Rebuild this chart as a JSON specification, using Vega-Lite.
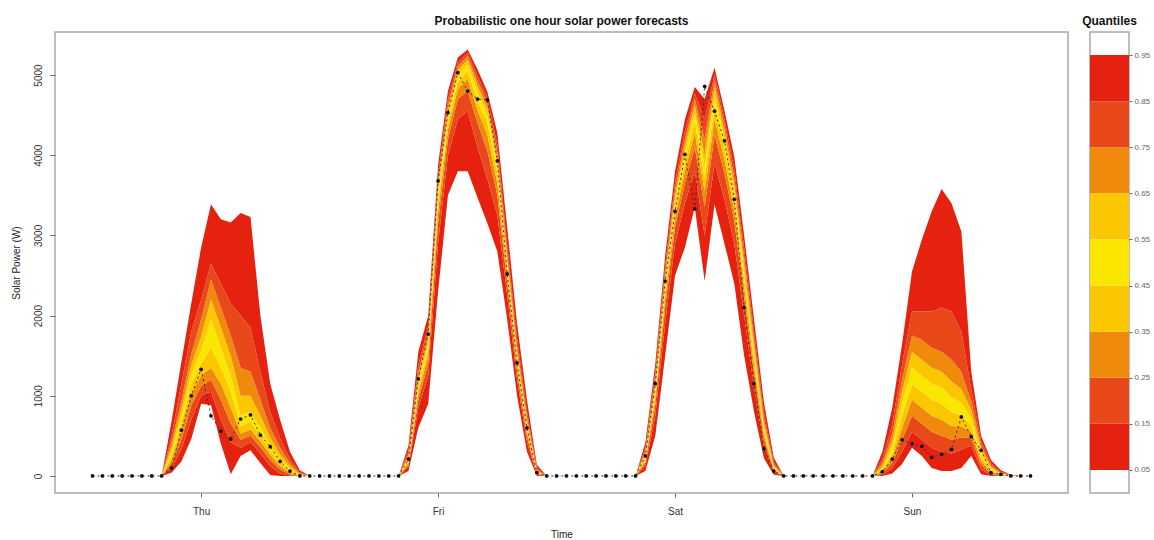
{
  "$schema": "https://vega.github.io/schema/vega-lite/v6.json",
  "padding": {"left": 10, "top": 14, "right": 0, "bottom": 0},
  "background": "white",
  "config": {
    "font": "Liberation Sans",
    "view": {"stroke": "#a9a9a9", "strokeWidth": 1.5},
    "axis": {"grid": false, "domain": false, "tickColor": "#666", "labelColor": "#333", "titleColor": "#222", "labelFont": "Liberation Sans", "titleFont": "Liberation Sans", "titleFontWeight": "normal"},
    "title": {"font": "Liberation Sans", "fontSize": 12, "fontWeight": "bold", "anchor": "middle", "color": "#111", "offset": 4}
  },
  "spacing": 12,
  "datasets": {
    "fc": [
      {"h":1,"o":0,"q05":0,"q15":0,"q25":0,"q35":0,"q45":0,"q55":0,"q65":0,"q75":0,"q85":0,"q95":0},
      {"h":2,"o":0,"q05":0,"q15":0,"q25":0,"q35":0,"q45":0,"q55":0,"q65":0,"q75":0,"q85":0,"q95":0},
      {"h":3,"o":0,"q05":0,"q15":0,"q25":0,"q35":0,"q45":0,"q55":0,"q65":0,"q75":0,"q85":0,"q95":0},
      {"h":4,"o":0,"q05":0,"q15":0,"q25":0,"q35":0,"q45":0,"q55":0,"q65":0,"q75":0,"q85":0,"q95":0},
      {"h":5,"o":0,"q05":0,"q15":0,"q25":0,"q35":0,"q45":0,"q55":0,"q65":0,"q75":0,"q85":0,"q95":0},
      {"h":6,"o":0,"q05":0,"q15":0,"q25":0,"q35":0,"q45":0,"q55":0,"q65":0,"q75":0,"q85":0,"q95":0},
      {"h":7,"o":0,"q05":0,"q15":0,"q25":0,"q35":0,"q45":0,"q55":0,"q65":0,"q75":0,"q85":0,"q95":0},
      {"h":8,"o":0,"q05":0,"q15":0,"q25":0,"q35":0,"q45":0,"q55":0,"q65":0,"q75":0,"q85":0,"q95":0},
      {"h":9,"o":100,"q05":40,"q15":100,"q25":150,"q35":200,"q45":250,"q55":300,"q65":360,"q75":420,"q85":500,"q95":680},
      {"h":10,"o":570,"q05":180,"q15":330,"q25":450,"q35":560,"q45":650,"q55":740,"q65":830,"q75":930,"q85":1150,"q95":1420},
      {"h":11,"o":1000,"q05":460,"q15":700,"q25":880,"q35":1030,"q45":1150,"q55":1260,"q65":1380,"q75":1520,"q85":1800,"q95":2150},
      {"h":12,"o":1330,"q05":900,"q15":1000,"q25":1120,"q35":1250,"q45":1400,"q55":1560,"q65":1740,"q75":1950,"q85":2200,"q95":2850},
      {"h":13,"o":750,"q05":880,"q15":1050,"q25":1200,"q35":1350,"q45":1600,"q55":1950,"q65":2200,"q75":2450,"q85":2650,"q95":3390},
      {"h":14,"o":560,"q05":400,"q15":700,"q25":950,"q35":1150,"q45":1350,"q55":1600,"q65":1850,"q75":2100,"q85":2400,"q95":3200},
      {"h":15,"o":460,"q05":20,"q15":420,"q25":650,"q35":850,"q45":1050,"q55":1250,"q65":1500,"q75":1750,"q85":2150,"q95":3160},
      {"h":16,"o":710,"q05":250,"q15":350,"q25":450,"q35":530,"q45":620,"q55":750,"q65":1000,"q75":1350,"q85":2000,"q95":3280},
      {"h":17,"o":760,"q05":320,"q15":420,"q25":500,"q35":580,"q45":680,"q55":800,"q65":1000,"q75":1300,"q85":1850,"q95":3230},
      {"h":18,"o":510,"q05":160,"q15":280,"q25":360,"q35":430,"q45":500,"q55":600,"q65":750,"q75":950,"q85":1300,"q95":2000},
      {"h":19,"o":365,"q05":10,"q15":120,"q25":200,"q35":260,"q45":320,"q55":390,"q65":480,"q75":600,"q85":800,"q95":1150},
      {"h":20,"o":180,"q05":0,"q15":30,"q25":80,"q35":120,"q45":160,"q55":210,"q65":270,"q75":350,"q85":470,"q95":700},
      {"h":21,"o":60,"q05":0,"q15":5,"q25":20,"q35":40,"q45":60,"q55":90,"q65":120,"q75":160,"q85":210,"q95":300},
      {"h":22,"o":0,"q05":0,"q15":0,"q25":2,"q35":5,"q45":10,"q55":15,"q65":22,"q75":32,"q85":45,"q95":70},
      {"h":23,"o":0,"q05":0,"q15":0,"q25":0,"q35":0,"q45":0,"q55":0,"q65":0,"q75":0,"q85":0,"q95":0},
      {"h":24,"o":0,"q05":0,"q15":0,"q25":0,"q35":0,"q45":0,"q55":0,"q65":0,"q75":0,"q85":0,"q95":0},
      {"h":25,"o":0,"q05":0,"q15":0,"q25":0,"q35":0,"q45":0,"q55":0,"q65":0,"q75":0,"q85":0,"q95":0},
      {"h":26,"o":0,"q05":0,"q15":0,"q25":0,"q35":0,"q45":0,"q55":0,"q65":0,"q75":0,"q85":0,"q95":0},
      {"h":27,"o":0,"q05":0,"q15":0,"q25":0,"q35":0,"q45":0,"q55":0,"q65":0,"q75":0,"q85":0,"q95":0},
      {"h":28,"o":0,"q05":0,"q15":0,"q25":0,"q35":0,"q45":0,"q55":0,"q65":0,"q75":0,"q85":0,"q95":0},
      {"h":29,"o":0,"q05":0,"q15":0,"q25":0,"q35":0,"q45":0,"q55":0,"q65":0,"q75":0,"q85":0,"q95":0},
      {"h":30,"o":0,"q05":0,"q15":0,"q25":0,"q35":0,"q45":0,"q55":0,"q65":0,"q75":0,"q85":0,"q95":0},
      {"h":31,"o":0,"q05":0,"q15":0,"q25":0,"q35":0,"q45":0,"q55":0,"q65":0,"q75":0,"q85":0,"q95":0},
      {"h":32,"o":0,"q05":0,"q15":0,"q25":0,"q35":0,"q45":0,"q55":0,"q65":0,"q75":0,"q85":0,"q95":0},
      {"h":33,"o":210,"q05":60,"q15":110,"q25":140,"q35":165,"q45":190,"q55":215,"q65":240,"q75":270,"q85":310,"q95":380},
      {"h":34,"o":1210,"q05":600,"q15":850,"q25":950,"q35":1030,"q45":1100,"q55":1160,"q65":1220,"q75":1290,"q85":1380,"q95":1550},
      {"h":35,"o":1770,"q05":900,"q15":1250,"q25":1400,"q35":1500,"q45":1580,"q55":1650,"q65":1720,"q75":1790,"q85":1870,"q95":2000},
      {"h":36,"o":3680,"q05":2300,"q15":2900,"q25":3150,"q35":3300,"q45":3420,"q55":3520,"q65":3600,"q75":3680,"q85":3760,"q95":3880},
      {"h":37,"o":4530,"q05":3500,"q15":4000,"q25":4200,"q35":4320,"q45":4410,"q55":4490,"q65":4560,"q75":4630,"q85":4700,"q95":4800},
      {"h":38,"o":5030,"q05":3800,"q15":4450,"q25":4700,"q35":4830,"q45":4920,"q55":5000,"q65":5060,"q75":5110,"q85":5160,"q95":5220},
      {"h":39,"o":4800,"q05":3800,"q15":4550,"q25":4800,"q35":4950,"q45":5050,"q55":5130,"q65":5190,"q75":5240,"q85":5280,"q95":5320},
      {"h":40,"o":4700,"q05":3470,"q15":4100,"q25":4400,"q35":4560,"q45":4680,"q55":4780,"q65":4860,"q75":4930,"q85":4990,"q95":5070},
      {"h":41,"o":4690,"q05":3150,"q15":3700,"q25":4050,"q35":4250,"q45":4400,"q55":4500,"q65":4580,"q75":4650,"q85":4720,"q95":4790},
      {"h":42,"o":3930,"q05":2800,"q15":3250,"q25":3500,"q35":3650,"q45":3780,"q55":3880,"q65":3960,"q75":4040,"q85":4130,"q95":4280},
      {"h":43,"o":2520,"q05":1950,"q15":2250,"q25":2400,"q35":2500,"q45":2570,"q55":2640,"q65":2710,"q75":2790,"q85":2880,"q95":3100},
      {"h":44,"o":1410,"q05":1000,"q15":1200,"q25":1300,"q35":1370,"q45":1430,"q55":1490,"q65":1550,"q75":1620,"q85":1720,"q95":1900},
      {"h":45,"o":600,"q05":300,"q15":420,"q25":490,"q35":540,"q45":590,"q55":640,"q65":690,"q75":740,"q85":810,"q95":950},
      {"h":46,"o":40,"q05":0,"q15":10,"q25":25,"q35":35,"q45":45,"q55":55,"q65":65,"q75":80,"q85":100,"q95":140},
      {"h":47,"o":0,"q05":0,"q15":0,"q25":0,"q35":0,"q45":0,"q55":0,"q65":0,"q75":0,"q85":0,"q95":0},
      {"h":48,"o":0,"q05":0,"q15":0,"q25":0,"q35":0,"q45":0,"q55":0,"q65":0,"q75":0,"q85":0,"q95":0},
      {"h":49,"o":0,"q05":0,"q15":0,"q25":0,"q35":0,"q45":0,"q55":0,"q65":0,"q75":0,"q85":0,"q95":0},
      {"h":50,"o":0,"q05":0,"q15":0,"q25":0,"q35":0,"q45":0,"q55":0,"q65":0,"q75":0,"q85":0,"q95":0},
      {"h":51,"o":0,"q05":0,"q15":0,"q25":0,"q35":0,"q45":0,"q55":0,"q65":0,"q75":0,"q85":0,"q95":0},
      {"h":52,"o":0,"q05":0,"q15":0,"q25":0,"q35":0,"q45":0,"q55":0,"q65":0,"q75":0,"q85":0,"q95":0},
      {"h":53,"o":0,"q05":0,"q15":0,"q25":0,"q35":0,"q45":0,"q55":0,"q65":0,"q75":0,"q85":0,"q95":0},
      {"h":54,"o":0,"q05":0,"q15":0,"q25":0,"q35":0,"q45":0,"q55":0,"q65":0,"q75":0,"q85":0,"q95":0},
      {"h":55,"o":0,"q05":0,"q15":0,"q25":0,"q35":0,"q45":0,"q55":0,"q65":0,"q75":0,"q85":0,"q95":0},
      {"h":56,"o":0,"q05":0,"q15":0,"q25":0,"q35":0,"q45":0,"q55":0,"q65":0,"q75":0,"q85":0,"q95":0},
      {"h":57,"o":250,"q05":60,"q15":120,"q25":160,"q35":190,"q45":220,"q55":250,"q65":280,"q75":310,"q85":350,"q95":420},
      {"h":58,"o":1150,"q05":500,"q15":750,"q25":880,"q35":960,"q45":1030,"q55":1100,"q65":1160,"q75":1220,"q85":1290,"q95":1400},
      {"h":59,"o":2430,"q05":1500,"q15":1900,"q25":2100,"q35":2220,"q45":2320,"q55":2400,"q65":2470,"q75":2540,"q85":2620,"q95":2750},
      {"h":60,"o":3300,"q05":2500,"q15":2900,"q25":3100,"q35":3220,"q45":3320,"q55":3410,"q65":3490,"q75":3570,"q85":3660,"q95":3800},
      {"h":61,"o":4010,"q05":2850,"q15":3400,"q25":3650,"q35":3800,"q45":3920,"q55":4020,"q65":4110,"q75":4200,"q85":4300,"q95":4450},
      {"h":62,"o":3330,"q05":3350,"q15":3800,"q25":4100,"q35":4280,"q45":4420,"q55":4530,"q65":4620,"q75":4700,"q85":4770,"q95":4850},
      {"h":63,"o":4860,"q05":2430,"q15":3000,"q25":3350,"q35":3550,"q45":3720,"q55":3860,"q65":4000,"q75":4200,"q85":4450,"q95":4700},
      {"h":64,"o":4550,"q05":3390,"q15":3900,"q25":4250,"q35":4450,"q45":4620,"q55":4750,"q65":4850,"q75":4940,"q85":5010,"q95":5090},
      {"h":65,"o":4180,"q05":2900,"q15":3450,"q25":3780,"q35":3950,"q45":4080,"q55":4200,"q65":4300,"q75":4380,"q85":4460,"q95":4560},
      {"h":66,"o":3450,"q05":2400,"q15":2900,"q25":3180,"q35":3320,"q45":3440,"q55":3540,"q65":3630,"q75":3720,"q85":3820,"q95":3980},
      {"h":67,"o":2100,"q05":1500,"q15":2000,"q25":2230,"q35":2360,"q45":2460,"q55":2550,"q65":2640,"q75":2730,"q85":2840,"q95":3000},
      {"h":68,"o":1150,"q05":800,"q15":1100,"q25":1280,"q35":1380,"q45":1470,"q55":1550,"q65":1630,"q75":1710,"q85":1800,"q95":1950},
      {"h":69,"o":340,"q05":220,"q15":360,"q25":450,"q35":510,"q45":560,"q55":610,"q65":660,"q75":720,"q85":790,"q95":920},
      {"h":70,"o":60,"q05":15,"q15":45,"q25":65,"q35":80,"q45":95,"q55":110,"q65":125,"q75":145,"q85":175,"q95":230},
      {"h":71,"o":0,"q05":0,"q15":0,"q25":0,"q35":0,"q45":0,"q55":0,"q65":0,"q75":0,"q85":0,"q95":0},
      {"h":72,"o":0,"q05":0,"q15":0,"q25":0,"q35":0,"q45":0,"q55":0,"q65":0,"q75":0,"q85":0,"q95":0},
      {"h":73,"o":0,"q05":0,"q15":0,"q25":0,"q35":0,"q45":0,"q55":0,"q65":0,"q75":0,"q85":0,"q95":0},
      {"h":74,"o":0,"q05":0,"q15":0,"q25":0,"q35":0,"q45":0,"q55":0,"q65":0,"q75":0,"q85":0,"q95":0},
      {"h":75,"o":0,"q05":0,"q15":0,"q25":0,"q35":0,"q45":0,"q55":0,"q65":0,"q75":0,"q85":0,"q95":0},
      {"h":76,"o":0,"q05":0,"q15":0,"q25":0,"q35":0,"q45":0,"q55":0,"q65":0,"q75":0,"q85":0,"q95":0},
      {"h":77,"o":0,"q05":0,"q15":0,"q25":0,"q35":0,"q45":0,"q55":0,"q65":0,"q75":0,"q85":0,"q95":0},
      {"h":78,"o":0,"q05":0,"q15":0,"q25":0,"q35":0,"q45":0,"q55":0,"q65":0,"q75":0,"q85":0,"q95":0},
      {"h":79,"o":0,"q05":0,"q15":0,"q25":0,"q35":0,"q45":0,"q55":0,"q65":0,"q75":0,"q85":0,"q95":0},
      {"h":80,"o":0,"q05":0,"q15":0,"q25":0,"q35":0,"q45":0,"q55":0,"q65":0,"q75":0,"q85":0,"q95":0},
      {"h":81,"o":55,"q05":0,"q15":10,"q25":30,"q35":50,"q45":70,"q55":90,"q65":120,"q75":160,"q85":210,"q95":300},
      {"h":82,"o":210,"q05":30,"q15":100,"q25":160,"q35":220,"q45":280,"q55":350,"q65":430,"q75":520,"q85":640,"q95":850},
      {"h":83,"o":450,"q05":150,"q15":300,"q25":450,"q35":600,"q45":750,"q55":900,"q65":1050,"q75":1200,"q85":1400,"q95":1650},
      {"h":84,"o":400,"q05":350,"q15":550,"q25":750,"q35":950,"q45":1150,"q55":1350,"q65":1550,"q75":1750,"q85":2050,"q95":2550},
      {"h":85,"o":370,"q05":250,"q15":450,"q25":650,"q35":850,"q45":1050,"q55":1250,"q65":1450,"q75":1700,"q85":2050,"q95":2950},
      {"h":86,"o":230,"q05":100,"q15":350,"q25":550,"q35":750,"q45":950,"q55":1150,"q65":1350,"q75":1600,"q85":2050,"q95":3300},
      {"h":87,"o":270,"q05":60,"q15":300,"q25":500,"q35":700,"q45":900,"q55":1100,"q65":1300,"q75":1550,"q85":2100,"q95":3580},
      {"h":88,"o":330,"q05":60,"q15":280,"q25":450,"q35":620,"q45":800,"q55":980,"q65":1180,"q75":1450,"q85":2050,"q95":3400},
      {"h":89,"o":735,"q05":100,"q15":330,"q25":480,"q35":620,"q45":760,"q55":910,"q65":1080,"q75":1300,"q85":1800,"q95":3050},
      {"h":90,"o":490,"q05":250,"q15":380,"q25":470,"q35":550,"q45":630,"q55":720,"q65":820,"q75":930,"q85":1080,"q95":1300},
      {"h":91,"o":320,"q05":20,"q15":80,"q25":140,"q35":190,"q45":240,"q55":290,"q65":340,"q75":390,"q85":440,"q95":500},
      {"h":92,"o":40,"q05":0,"q15":10,"q25":30,"q35":50,"q45":70,"q55":90,"q65":110,"q75":130,"q85":160,"q95":200},
      {"h":93,"o":20,"q05":0,"q15":0,"q25":5,"q35":10,"q45":15,"q55":22,"q65":30,"q75":40,"q85":50,"q95":70},
      {"h":94,"o":0,"q05":0,"q15":0,"q25":0,"q35":0,"q45":2,"q55":4,"q65":6,"q75":8,"q85":10,"q95":15},
      {"h":95,"o":0,"q05":0,"q15":0,"q25":0,"q35":0,"q45":0,"q55":0,"q65":0,"q75":0,"q85":0,"q95":0},
      {"h":96,"o":0,"q05":0,"q15":0,"q25":0,"q35":0,"q45":0,"q55":0,"q65":0,"q75":0,"q85":0,"q95":0}
    ],
    "leg": [
      {"lo":0.05,"hi":0.15,"band":"0.05-0.15"},
      {"lo":0.15,"hi":0.25,"band":"0.15-0.25"},
      {"lo":0.25,"hi":0.35,"band":"0.25-0.35"},
      {"lo":0.35,"hi":0.45,"band":"0.35-0.45"},
      {"lo":0.45,"hi":0.55,"band":"0.45-0.55"},
      {"lo":0.55,"hi":0.65,"band":"0.55-0.65"},
      {"lo":0.65,"hi":0.75,"band":"0.65-0.75"},
      {"lo":0.75,"hi":0.85,"band":"0.75-0.85"},
      {"lo":0.85,"hi":0.95,"band":"0.85-0.95"}
    ]
  },
  "hconcat": [
    {
      "title": {"text": "Probabilistic one hour solar power forecasts"},
      "width": 1013,
      "height": 461,
      "data": {"name": "fc"},
      "encoding": {
        "x": {"field": "h", "type": "quantitative",
          "scale": {"domain": [-2.8, 99.8], "nice": false, "zero": false},
          "axis": {"values": [12, 36, 60, 84], "labelExpr": "datum.value == 12 ? 'Thu' : datum.value == 36 ? 'Fri' : datum.value == 60 ? 'Sat' : 'Sun'", "title": "Time", "tickSize": 4, "labelPadding": 9, "labelFontSize": 10, "titleFontSize": 10, "titlePadding": 13}}
      },
      "layer": [
        {"mark": {"type": "area", "color": "#e4220f"}, "encoding": {
          "y": {"field": "q05", "type": "quantitative", "title": "Solar Power (W)",
            "scale": {"domain": [-213, 5537], "nice": false, "zero": false},
            "axis": {"values": [0, 1000, 2000, 3000, 4000, 5000], "format": "d", "labelAngle": 270, "labelAlign": "center", "labelBaseline": "bottom", "tickSize": 5, "labelPadding": 7, "labelFontSize": 10, "titleFontSize": 10, "titlePadding": 12}},
          "y2": {"field": "q15"}}},
        {"mark": {"type": "area", "color": "#e9481b"}, "encoding": {"y": {"field": "q15", "type": "quantitative", "title": "Solar Power (W)"}, "y2": {"field": "q25"}}},
        {"mark": {"type": "area", "color": "#ef8a0c"}, "encoding": {"y": {"field": "q25", "type": "quantitative", "title": "Solar Power (W)"}, "y2": {"field": "q35"}}},
        {"mark": {"type": "area", "color": "#fbc700"}, "encoding": {"y": {"field": "q35", "type": "quantitative", "title": "Solar Power (W)"}, "y2": {"field": "q45"}}},
        {"mark": {"type": "area", "color": "#fbe600"}, "encoding": {"y": {"field": "q45", "type": "quantitative", "title": "Solar Power (W)"}, "y2": {"field": "q55"}}},
        {"mark": {"type": "area", "color": "#fbc700"}, "encoding": {"y": {"field": "q55", "type": "quantitative", "title": "Solar Power (W)"}, "y2": {"field": "q65"}}},
        {"mark": {"type": "area", "color": "#ef8a0c"}, "encoding": {"y": {"field": "q65", "type": "quantitative", "title": "Solar Power (W)"}, "y2": {"field": "q75"}}},
        {"mark": {"type": "area", "color": "#e9481b"}, "encoding": {"y": {"field": "q75", "type": "quantitative", "title": "Solar Power (W)"}, "y2": {"field": "q85"}}},
        {"mark": {"type": "area", "color": "#e4220f"}, "encoding": {"y": {"field": "q85", "type": "quantitative", "title": "Solar Power (W)"}, "y2": {"field": "q95"}}},
        {"mark": {"type": "line", "color": "#333333", "strokeWidth": 1, "strokeDash": [2, 3]}, "encoding": {"y": {"field": "o", "type": "quantitative", "title": "Solar Power (W)"}}},
        {"mark": {"type": "point", "filled": true, "color": "#111111", "size": 14, "opacity": 1}, "encoding": {"y": {"field": "o", "type": "quantitative", "title": "Solar Power (W)"}}}
      ]
    },
    {
      "title": {"text": "Quantiles"},
      "width": 39,
      "height": 461,
      "data": {"name": "leg"},
      "mark": {"type": "rect"},
      "encoding": {
        "y": {"field": "lo", "type": "quantitative", "scale": {"domain": [0, 1], "nice": false, "zero": false},
          "axis": {"orient": "right", "values": [0.05, 0.15, 0.25, 0.35, 0.45, 0.55, 0.65, 0.75, 0.85, 0.95], "format": ".2f", "title": null, "labelFontSize": 8, "labelColor": "#666", "tickSize": 3, "labelPadding": 2}},
        "y2": {"field": "hi"},
        "color": {"field": "band", "type": "nominal", "legend": null,
          "scale": {"domain": ["0.05-0.15", "0.15-0.25", "0.25-0.35", "0.35-0.45", "0.45-0.55", "0.55-0.65", "0.65-0.75", "0.75-0.85", "0.85-0.95"],
            "range": ["#e4220f", "#e9481b", "#ef8a0c", "#fbc700", "#fbe600", "#fbc700", "#ef8a0c", "#e9481b", "#e4220f"]}}
      }
    }
  ]
}
